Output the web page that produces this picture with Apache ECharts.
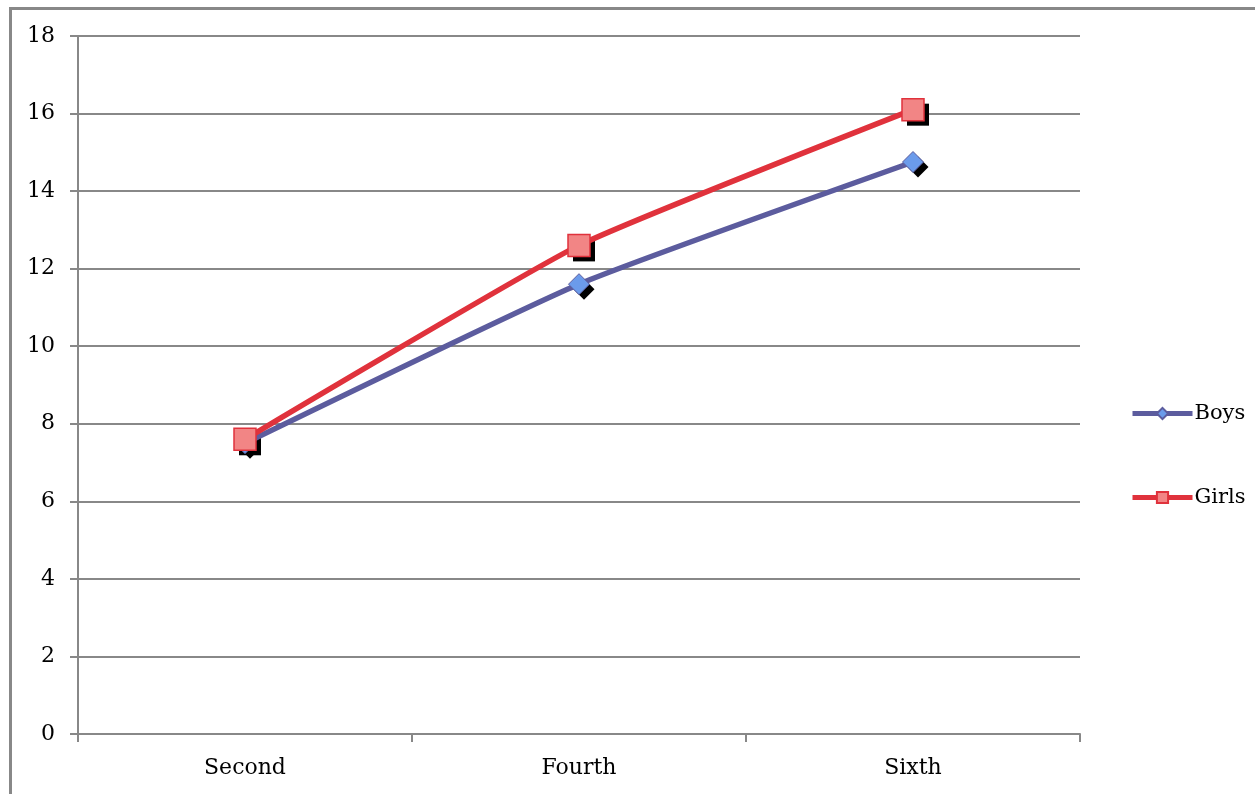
<!DOCTYPE html>
<html>
<head>
<meta charset="utf-8">
<script src="https://cdn.jsdelivr.net/npm/echarts@6/dist/echarts.min.js"></script>
<style>html,body{margin:0;padding:0;background:#fff}#c{width:1255px;height:794px}</style>
</head>
<body>
<div id="c"></div>
<script>
const categories = ['Second', 'Fourth', 'Sixth'];
const boys = [7.5, 11.6, 14.75];
const girls = [7.6, 12.6, 16.1];
const yTicks = { min: 0, max: 18, interval: 2 };

const chart = echarts.init(document.getElementById('c'));
const font = 'DejaVu Serif, Liberation Serif, serif';

function shadowSeries(data, symbol, size, z) {
  return {
    name: '_shadow', type: 'line', data: data,
    symbol: symbol, symbolSize: size, symbolOffset: [5, 5],
    showSymbol: true, silent: true,
    lineStyle: { opacity: 0, width: 0 },
    itemStyle: { color: '#000', borderWidth: 0 },
    emphasis: { disabled: true },
    z: z
  };
}

chart.setOption({
  animation: false,
  backgroundColor: '#fff',
  graphic: [{
    type: 'rect', left: 8, top: 6,
    shape: { width: 1270, height: 820 },
    style: { fill: 'none', stroke: '#888', lineWidth: 3 }
  }],
  grid: { left: 78, top: 36, right: 175, bottom: 60 },
  legend: {
    orient: 'vertical', left: 1130, top: 403, padding: 0,
    itemGap: 63, itemWidth: 60, itemHeight: 14,
    lineStyle: { width: 5 },
    textStyle: { fontFamily: font, fontSize: 21, color: '#000', padding: [0, 0, 0, -3] },
    data: ['Boys', 'Girls']
  },
  xAxis: {
    type: 'category', data: categories, boundaryGap: true,
    axisLine: { lineStyle: { color: '#888', width: 2 } },
    axisTick: { show: true, length: 8, lineStyle: { color: '#888', width: 2 } },
    axisLabel: { fontFamily: font, fontSize: 22, color: '#000', margin: 23 }
  },
  yAxis: {
    type: 'value', min: yTicks.min, max: yTicks.max, interval: yTicks.interval,
    axisLine: { show: true, lineStyle: { color: '#888', width: 2 } },
    axisTick: { show: true, length: 8, lineStyle: { color: '#888', width: 2 } },
    splitLine: { lineStyle: { color: '#888', width: 2 } },
    axisLabel: { fontFamily: font, fontSize: 22, color: '#000', margin: 23 }
  },
  series: [
    shadowSeries(boys, 'diamond', 21, 1),
    shadowSeries(girls, 'rect', 22, 1),
    {
      name: 'Boys', type: 'line', data: boys, smooth: 0.15,
      symbol: 'diamond', symbolSize: 21,
      lineStyle: { color: '#5C5C9E', width: 5.5 },
      itemStyle: { color: '#6B9BEB', borderColor: '#5C5C9E', borderWidth: 1 },
      z: 2
    },
    {
      name: 'Girls', type: 'line', data: girls, smooth: 0.15,
      symbol: 'rect', symbolSize: 22,
      lineStyle: { color: '#E0323C', width: 5.5 },
      itemStyle: { color: '#F28585', borderColor: '#E0323C', borderWidth: 1.5 },
      z: 3
    }
  ]
});
</script>
</body>
</html>
